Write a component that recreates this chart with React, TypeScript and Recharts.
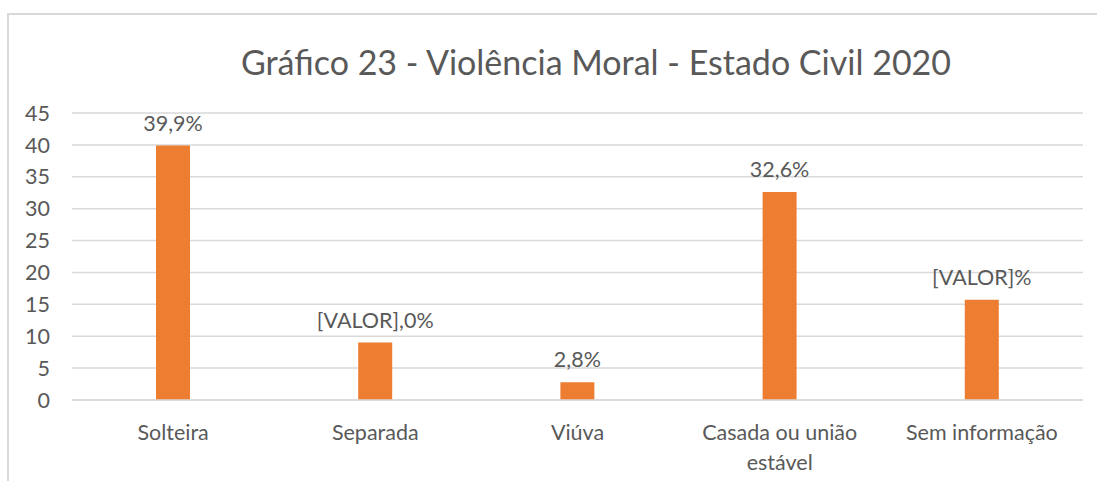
import { Bar, BarChart, CartesianGrid, LabelList, XAxis, YAxis } from 'recharts'

const categories = ['Solteira', 'Separada', 'Viúva', 'Casada ou união estável', 'Sem informação']
const values = [39.9, 9.0, 2.8, 32.6, 15.7]
const valueLabels = ['39,9%', '[VALOR],0%', '2,8%', '32,6%', '[VALOR]%']
const yTicks = [0, 5, 10, 15, 20, 25, 30, 35, 40, 45]

const FONT = 'Lato, "Open Sans", sans-serif'
const TEXT = '#595959'
const ORANGE = '#ED7D31'
const LABEL_SIZE = 21.5

const chartData = categories.map((name, i) => ({ name, value: values[i], label: valueLabels[i] }))

let measureCtx: CanvasRenderingContext2D | null = null
const measure = (s: string) => {
  if (!measureCtx) {
    measureCtx = document.createElement('canvas').getContext('2d')
  }
  if (!measureCtx) return s.length * LABEL_SIZE * 0.5
  measureCtx.font = `${LABEL_SIZE}px ${FONT}`
  return measureCtx.measureText(s).width
}

// greedy word wrap, like the office chart does for long category names
const wrap = (label: string, maxWidth: number) => {
  const lines: string[] = []
  let current = ''
  label.split(' ').forEach((word) => {
    const next = current ? `${current} ${word}` : word
    if (current && measure(next) > maxWidth) {
      lines.push(current)
      current = word
    } else {
      current = next
    }
  })
  if (current) lines.push(current)
  return lines
}

const CategoryTick = (props: any) => {
  const { x, y, payload } = props
  const lines = wrap(String(payload.value), 180)
  return (
    <text
      x={x}
      y={y + 32}
      textAnchor="middle"
      fill={TEXT}
      fontSize={LABEL_SIZE}
      fontFamily={FONT}
    >
      {lines.map((line, i) => (
        <tspan key={line} x={x} dy={i === 0 ? 0 : 30}>
          {line}
        </tspan>
      ))}
    </text>
  )
}

export default function App() {
  return (
    <div
      style={{
        position: 'fixed',
        left: 0,
        top: 0,
        width: 1097,
        height: 481,
        overflow: 'hidden',
        background: '#fff',
      }}
    >
      <div
        style={{
          position: 'absolute',
          left: 7,
          top: 13,
          width: 1200,
          height: 600,
          border: '2px solid #D9D9D9',
        }}
      />
      <div
        style={{
          position: 'absolute',
          left: 96,
          width: 1000,
          top: 42,
          lineHeight: '40px',
          textAlign: 'center',
          fontFamily: FONT,
          fontSize: 34,
          color: TEXT,
          whiteSpace: 'nowrap',
        }}
      >
        Gráfico 23 - Violência Moral - Estado Civil 2020
      </div>
      <div style={{ position: 'absolute', left: 0, top: 0 }}>
        <BarChart
          width={1097}
          height={481}
          data={chartData}
          margin={{ top: 113, right: 14, bottom: 0, left: 0 }}
          barSize={34}
        >
          <CartesianGrid vertical={false} stroke="#D9D9D9" strokeWidth={1.5} />
          <XAxis
            dataKey="name"
            axisLine={{ stroke: '#D9D9D9', strokeWidth: 1.5 }}
            tickLine={false}
            height={81}
            interval={0}
            tick={<CategoryTick />}
          />
          <YAxis
            domain={[0, 45]}
            ticks={yTicks}
            width={72}
            axisLine={false}
            tickLine={false}
            tickSize={0}
            tickMargin={22}
            tick={{ fill: TEXT, fontSize: LABEL_SIZE, fontFamily: FONT }}
          />
          <Bar dataKey="value" fill={ORANGE} isAnimationActive={false}>
            <LabelList
              dataKey="label"
              position="top"
              offset={15}
              fill={TEXT}
              fontSize={LABEL_SIZE}
              fontFamily={FONT}
            />
          </Bar>
        </BarChart>
      </div>
    </div>
  )
}
